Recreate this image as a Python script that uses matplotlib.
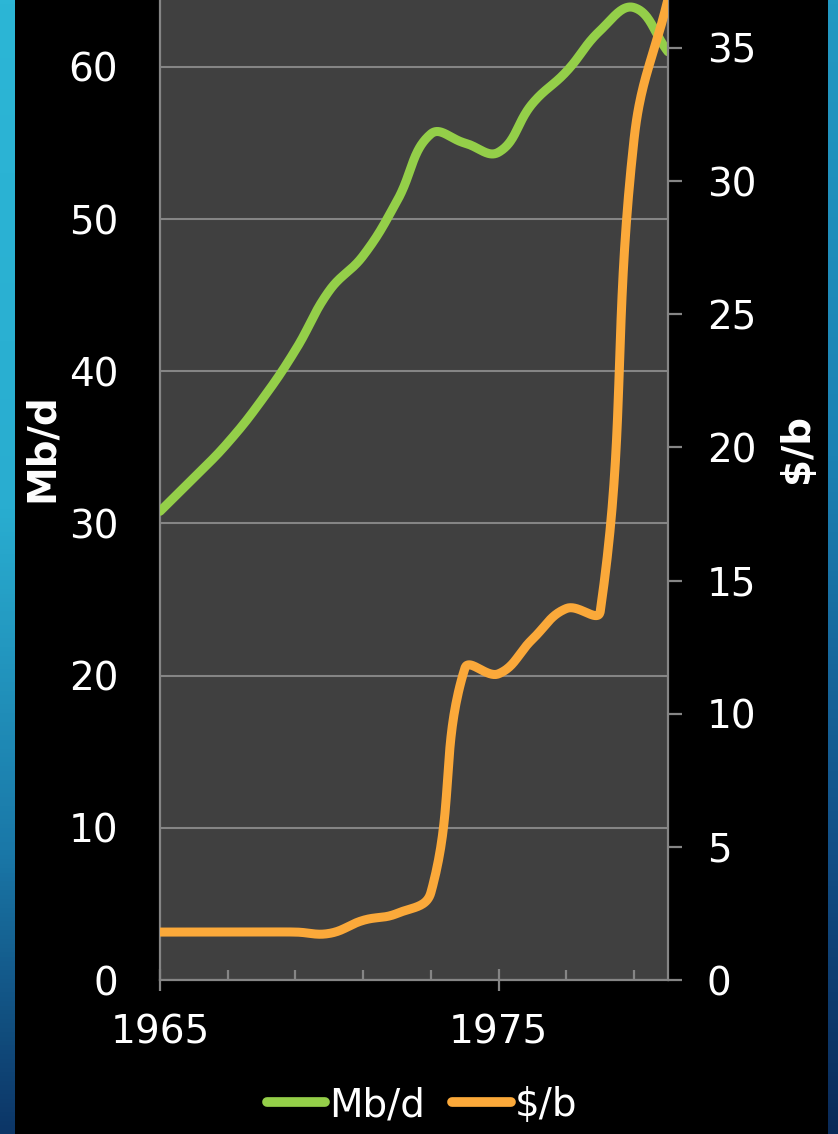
import numpy as np
import matplotlib
matplotlib.use("Agg")
import matplotlib.pyplot as plt
from matplotlib.ticker import FixedLocator
from matplotlib.colors import LinearSegmentedColormap
from matplotlib.path import Path

# ---- data ----
years = [1965, 1966, 1967, 1968, 1969, 1970, 1971, 1972, 1973, 1974,
         1975, 1976, 1977, 1978, 1979, 1980]
mbd = [30.8, 33.0, 35.3, 38.1, 41.4, 45.3, 47.6, 51.2, 55.6, 55.0,
       54.4, 57.6, 59.7, 62.4, 63.9, 61.0]
price = [1.80, 1.80, 1.80, 1.80, 1.80, 1.75, 2.24, 2.50, 3.29, 11.70,
         11.50, 12.80, 13.95, 13.85, 31.60, 36.83]
left_ticks = [0, 10, 20, 30, 40, 50, 60]
right_ticks = [0, 5, 10, 15, 20, 25, 30, 35]
x_major = [1965, 1975]
series_names = ["Mb/d", "$/b"]

GREEN = "#94CF49"
ORANGE = "#FBA93A"
GRID = "#858585"
FONT = "DejaVu Sans"


def smooth_line(axis, xs, ys, f=0.42, n=40):
    """Render a smoothed line (Bezier through the data points, computed in screen space)."""
    tr = axis.transData
    P = tr.transform(np.column_stack([xs, ys]))
    m = len(P)
    out = [P[0]]
    t = np.linspace(0, 1, n)[1:, None]
    for i in range(m - 1):
        p1, p2 = P[i], P[i + 1]
        p0 = P[i - 1] if i > 0 else p1
        p3 = P[i + 2] if i + 2 < m else p2
        d12 = np.linalg.norm(p2 - p1)
        d01 = np.linalg.norm(p1 - p0)
        d23 = np.linalg.norm(p3 - p2)
        c1 = p1 + (p2 - p0) * f * d12 / (d01 + d12) if d01 + d12 > 0 else p1
        c2 = p2 - (p3 - p1) * f * d12 / (d12 + d23) if d12 + d23 > 0 else p2
        seg = ((1 - t) ** 3) * p1 + 3 * ((1 - t) ** 2) * t * c1 + \
              3 * (1 - t) * t ** 2 * c2 + t ** 3 * p2
        out.extend(seg)
    D = tr.inverted().transform(np.array(out))
    return D[:, 0], D[:, 1]


W, H = 838, 1134
fig = plt.figure(figsize=(W / 100, H / 100), dpi=100, facecolor="black")


def strip(x0, w, stops):
    a = fig.add_axes([x0 / W, 0, w / W, 1])
    cmap = LinearSegmentedColormap.from_list("g", stops)
    a.imshow(np.linspace(0, 1, 256).reshape(-1, 1), aspect="auto", cmap=cmap,
             extent=[0, 1, 0, 1], origin="upper")
    a.set_axis_off()


strip(0, 14, [(0, "#2CB6D6"), (0.45, "#29ADD0"), (0.75, "#1A78A8"), (1, "#0C3566")])
strip(828, 10, [(0, "#2399C2"), (0.4, "#1C82B3"), (0.75, "#124F86"), (1, "#0A2A58")])

ax = fig.add_axes([160 / W, 1 - 980 / H, 508 / W, 980 / H])
ax.set_facecolor("#404040")
ax2 = ax.twinx()

ax.set_xlim(1965, 1980)
ax.set_ylim(0, 64.4)
ax2.set_ylim(0, 36.8)

sx, sy = smooth_line(ax, years, mbd)
l1, = ax.plot(sx, sy, color=GREEN, lw=6.5, solid_capstyle="round", zorder=3,
              label=series_names[0])
sx2, sy2 = smooth_line(ax2, years, price)
l2, = ax2.plot(sx2, sy2, color=ORANGE, lw=6.5, solid_capstyle="round", zorder=3,
               label=series_names[1])

ax.set_yticks(left_ticks)
ax.yaxis.grid(True, color=GRID, lw=1.5)
ax.set_axisbelow(True)
ax.xaxis.set_major_locator(FixedLocator(x_major))
ax.xaxis.set_minor_locator(FixedLocator(list(range(1965, 1981, 2))))
ax2.set_yticks(right_ticks)

for a in (ax, ax2):
    for s in a.spines.values():
        s.set_visible(False)
ax.spines["left"].set_visible(True)
ax.spines["bottom"].set_visible(True)
ax2.spines["right"].set_visible(True)
for s in (ax.spines["left"], ax.spines["bottom"], ax2.spines["right"]):
    s.set_color(GRID)
    s.set_linewidth(1.6)

ax.tick_params(axis="y", which="both", length=0, pad=30, labelsize=28,
               labelcolor="white")
ax.tick_params(axis="x", which="major", direction="inout", length=16, width=1.6,
               color=GRID, pad=16, labelsize=28, labelcolor="white")
ax.tick_params(axis="x", which="minor", direction="in", length=7, width=1.6,
               color=GRID)
ax2.tick_params(axis="y", which="major", direction="out", length=10, width=1.6,
                color=GRID, pad=18, labelsize=28, labelcolor="white")

for lab in ax.get_xticklabels() + ax.get_yticklabels() + ax2.get_yticklabels():
    lab.set_family(FONT)

fig.text(42 / W, 1 - 448 / H, "Mb/d", rotation=90, color="white", fontsize=28,
         fontweight="bold", ha="center", va="center", family=FONT)
fig.text(797 / W, 1 - 448 / H, "$/b", rotation=90, color="white", fontsize=28,
         fontweight="bold", ha="center", va="center", family=FONT)

leg = fig.legend(handles=[l1, l2], loc="center", bbox_to_anchor=(422 / W, 1 - 1105 / H),
                 ncol=2, frameon=False, fontsize=28, handlelength=1.5,
                 handletextpad=0.1, columnspacing=0.7, borderaxespad=0,
                 borderpad=0)
for t in leg.get_texts():
    t.set_color("white")
for h in leg.legend_handles:
    h.set_linewidth(7)
    h.set_solid_capstyle("round")

fig.savefig("out.png", dpi=100, facecolor="black")
